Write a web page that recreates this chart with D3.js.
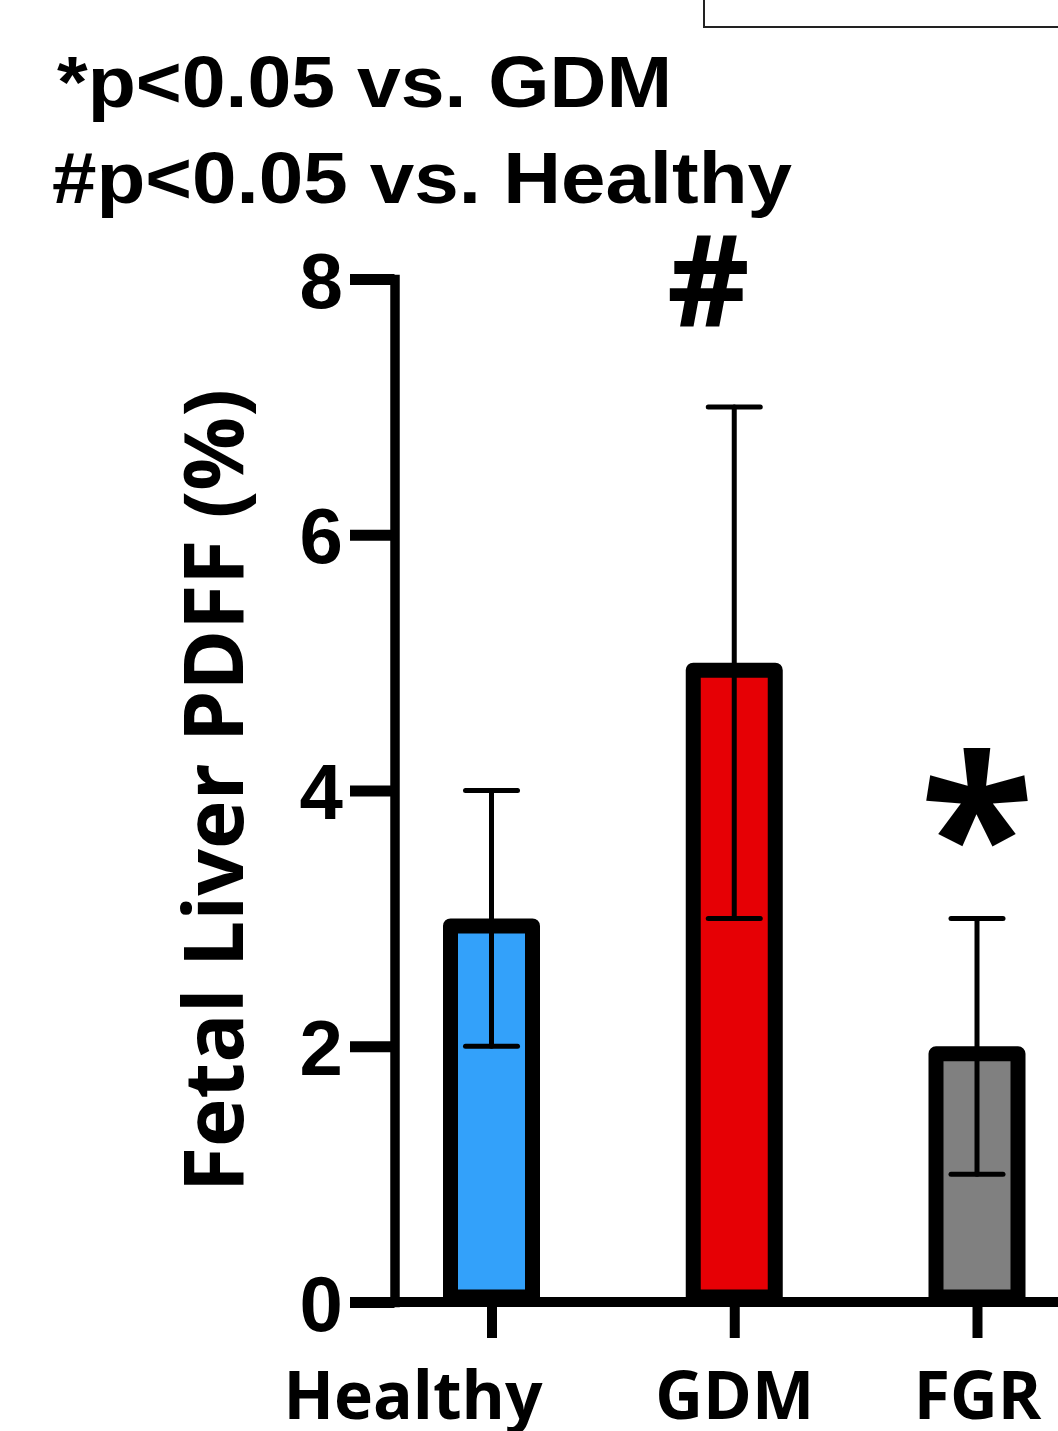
<!DOCTYPE html>
<html>
<head>
<meta charset="utf-8">
<script src="https://cdn.jsdelivr.net/npm/d3@7"></script>
<style>
  body { margin: 0; background: #fff; }
  svg { display: block; }
</style>
</head>
<body>
<div class="canvas"></div>
<script>
// data
var groups = ["Healthy", "GDM", "FGR"];
var means = [3, 5, 2];
var errLow = [2, 3, 1];
var errHigh = [4, 7, 3];
var barColors = ["#33A1FA", "#E60005", "#808080"];
var yTicks = [0, 2, 4, 6, 8];
var marks = ["", "#", "*"];
var notes = ["*p<0.05 vs. GDM", "#p<0.05 vs. Healthy"];

var svgWidth = 1058, svgHeight = 1431;

var svg = d3.select(".canvas").append("svg")
    .attr("width", svgWidth)
    .attr("height", svgHeight);

// scales
var y = d3.scaleLinear().domain([0, 8]).range([1302, 279]);
var x = d3.scalePoint().domain(groups).range([491.5, 977]);

var barW = 97, barStroke = 15;

// legend box peeking in at the top right
svg.append("rect")
    .attr("x", 704).attr("y", -20)
    .attr("width", 420).attr("height", 47)
    .attr("fill", "none")
    .attr("stroke", "#222")
    .attr("stroke-width", 2);

// significance notes
var noteWidths = [615, 740];
svg.selectAll(".note")
    .data(notes)
  .enter().append("text")
    .attr("class", "note")
    .attr("x", (d, i) => i === 0 ? 57 : 52)
    .attr("y", (d, i) => 107 + i * 96)
    .attr("textLength", (d, i) => noteWidths[i])
    .attr("lengthAdjust", "spacingAndGlyphs")
    .style("font-family", "'Liberation Sans', Arial, sans-serif")
    .style("font-weight", "bold")
    .style("font-size", "73px")
    .text(d => d);

// bars (border drawn inside the value, bottom hidden under the axis)
svg.selectAll(".bar")
    .data(groups)
  .enter().append("rect")
    .attr("class", "bar")
    .attr("x", d => x(d) - barW / 2 + barStroke / 2)
    .attr("y", (d, i) => y(means[i]) + barStroke / 2)
    .attr("width", barW - barStroke)
    .attr("height", (d, i) => y(0) - y(means[i]) - barStroke / 2 - 5)
    .attr("fill", (d, i) => barColors[i])
    .attr("stroke", "#000")
    .attr("stroke-width", barStroke)
    .attr("stroke-linejoin", "round");

// error bars
var capW = 52;
var eb = svg.selectAll(".err")
    .data(groups)
  .enter().append("g")
    .attr("class", "err")
    .attr("stroke", "#000")
    .attr("stroke-width", 5)
    .attr("stroke-linecap", "round");

eb.append("line")
    .attr("x1", d => x(d)).attr("x2", d => x(d))
    .attr("y1", (d, i) => y(errLow[i]))
    .attr("y2", (d, i) => y(errHigh[i]));
eb.append("line")
    .attr("x1", d => x(d) - capW / 2).attr("x2", d => x(d) + capW / 2)
    .attr("y1", (d, i) => y(errHigh[i]))
    .attr("y2", (d, i) => y(errHigh[i]));
eb.append("line")
    .attr("x1", d => x(d) - capW / 2).attr("x2", d => x(d) + capW / 2)
    .attr("y1", (d, i) => y(errLow[i]))
    .attr("y2", (d, i) => y(errLow[i]));

// y axis
var yAxis = svg.append("g")
    .attr("transform", "translate(394.5,0)")
    .call(d3.axisLeft(y).tickValues(yTicks).tickSize(44.5).tickSizeOuter(0).tickPadding(7));
yAxis.select(".domain")
    .attr("stroke-width", 9.5)
    .attr("stroke-linecap", "square");
yAxis.selectAll(".tick line").attr("stroke-width", 11);
yAxis.selectAll(".tick text")
    .attr("dy", "0.36em")
    .style("font-family", "'Liberation Sans', Arial, sans-serif")
    .style("font-weight", "bold")
    .style("font-size", "78px")
    .attr("fill", "#000");

// x axis line
svg.append("line")
    .attr("x1", 350).attr("x2", svgWidth + 10)
    .attr("y1", y(0)).attr("y2", y(0))
    .attr("stroke", "#000")
    .attr("stroke-width", 10);

// x ticks + labels
var xAxis = svg.append("g")
    .attr("transform", "translate(0," + (y(0) + 5) + ")")
    .call(d3.axisBottom(x).tickSize(31).tickSizeOuter(0).tickPadding(0));
xAxis.select(".domain").remove();
xAxis.selectAll(".tick line").attr("stroke-width", 10);
xAxis.selectAll(".tick text")
    .attr("y", 112)
    .attr("dy", 0)
    .attr("dx", (d, i) => i === 0 ? -79 : 0)
    .style("font-family", "'Open Sans', sans-serif")
    .style("font-weight", "bold")
    .style("font-size", "66px")
    .attr("fill", "#000");

// y label
svg.append("text")
    .attr("transform", "translate(243," + ((y(0) + y(8)) / 2) + ") rotate(-90)")
    .style("text-anchor", "middle")
    .style("font-family", "'Open Sans', sans-serif")
    .style("font-weight", "bold")
    .style("font-size", "82px")
    .text("Fetal Liver PDFF (%)");

// significance marks above bars
svg.selectAll(".mark")
    .data(groups)
  .enter().append("text")
    .attr("class", "mark")
    .attr("x", (d, i) => i === 1 ? x(d) - 26 : x(d))
    .attr("y", (d, i) => i === 1 ? 326 : 908)
    .style("text-anchor", "middle")
    .style("font-family", "'Open Sans', sans-serif")
    .style("font-weight", "bold")
    .style("font-size", (d, i) => i === 1 ? "128px" : "210px")
    .text((d, i) => marks[i]);
</script>
</body>
</html>
